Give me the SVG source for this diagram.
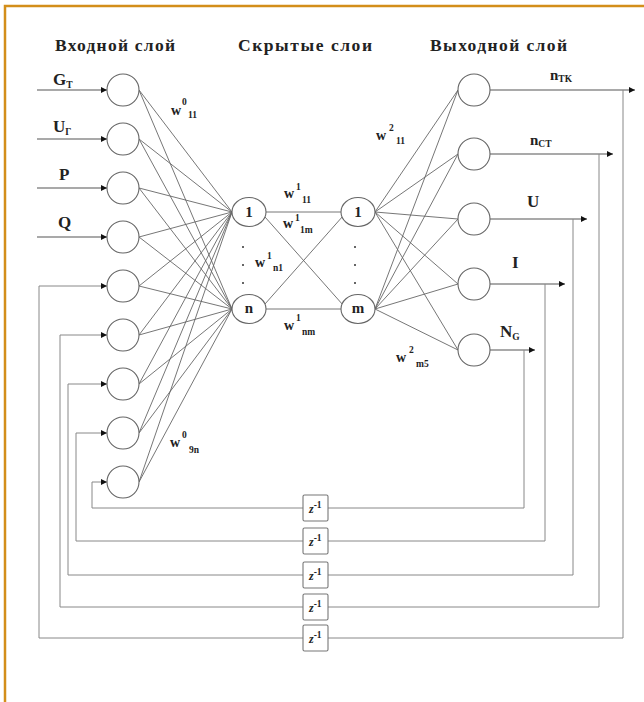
<svg xmlns="http://www.w3.org/2000/svg" width="644" height="702" viewBox="0 0 644 702">
<defs>
<marker id="ah" viewBox="0 0 10 10" refX="10" refY="5" markerWidth="7" markerHeight="6" orient="auto" markerUnits="userSpaceOnUse">
<path d="M0,0 L10,5 L0,10 z" fill="#111"/>
</marker>
<style>
.bg{fill:#fff}
.border{fill:none;stroke:#D38E1A;stroke-width:2.5}
.node{fill:#fff;stroke:#666;stroke-width:1.1}
.w{fill:none;stroke:#666;stroke-width:0.9}
.io{fill:none;stroke:#555;stroke-width:1.2}
.fb{fill:none;stroke:#888;stroke-width:1}
.zbox{fill:#fff;stroke:#777;stroke-width:1.1}
text{font-family:"Liberation Serif","Times New Roman",serif;font-weight:bold;fill:#222}
.hd{font-size:17.5px}
.lab{font-size:17px}
.nl{font-size:15px}
.wt{font-size:14px}
.sm{font-size:9.5px}
.z{font-size:12px;font-style:italic}
.dot{fill:#333}
</style>
</defs>
<rect class="bg" x="0" y="0" width="644" height="702"/>
<path class="border" d="M5,702 L5,6 L644,6"/>

<g id="headers">
<text class="hd" x="55" y="51" textLength="120" lengthAdjust="spacing">Входной слой</text>
<text class="hd" x="238" y="51" textLength="134" lengthAdjust="spacing">Скрытые слои</text>
<text class="hd" x="430" y="51" textLength="137" lengthAdjust="spacing">Выходной слой</text>
</g>

<g id="connectors">
<line class="io" x1="37" y1="90" x2="107" y2="90" marker-end="url(#ah)"/>
<line class="io" x1="37" y1="139" x2="107" y2="139" marker-end="url(#ah)"/>
<line class="io" x1="37" y1="188" x2="107" y2="188" marker-end="url(#ah)"/>
<line class="io" x1="37" y1="237" x2="107" y2="237" marker-end="url(#ah)"/>
<g class="w">
<line x1="139" y1="90" x2="232" y2="212"/><line x1="139" y1="90" x2="232" y2="309"/>
<line x1="139" y1="139" x2="232" y2="212"/><line x1="139" y1="139" x2="232" y2="309"/>
<line x1="139" y1="188" x2="232" y2="212"/><line x1="139" y1="188" x2="232" y2="309"/>
<line x1="139" y1="237" x2="232" y2="212"/><line x1="139" y1="237" x2="232" y2="309"/>
<line x1="139" y1="286" x2="232" y2="212"/><line x1="139" y1="286" x2="232" y2="309"/>
<line x1="139" y1="335" x2="232" y2="212"/><line x1="139" y1="335" x2="232" y2="309"/>
<line x1="139" y1="384" x2="232" y2="212"/><line x1="139" y1="384" x2="232" y2="309"/>
<line x1="139" y1="433" x2="232" y2="212"/><line x1="139" y1="433" x2="232" y2="309"/>
<line x1="139" y1="482" x2="232" y2="212"/><line x1="139" y1="482" x2="232" y2="309"/>
<line x1="266" y1="212" x2="341" y2="212"/>
<line x1="266" y1="309" x2="341" y2="309"/>
<line x1="265" y1="217" x2="343" y2="305"/>
<line x1="265" y1="304" x2="343" y2="216"/>
<line x1="375" y1="212" x2="458" y2="90"/><line x1="375" y1="309" x2="458" y2="90"/>
<line x1="375" y1="212" x2="458" y2="154"/><line x1="375" y1="309" x2="458" y2="154"/>
<line x1="375" y1="212" x2="458" y2="219"/><line x1="375" y1="309" x2="458" y2="219"/>
<line x1="375" y1="212" x2="458" y2="284"/><line x1="375" y1="309" x2="458" y2="284"/>
<line x1="375" y1="212" x2="458" y2="350"/><line x1="375" y1="309" x2="458" y2="350"/>
</g>
<line class="io" x1="490" y1="90" x2="635" y2="90" marker-end="url(#ah)"/>
<line class="io" x1="490" y1="154" x2="613" y2="154" marker-end="url(#ah)"/>
<line class="io" x1="490" y1="219" x2="587" y2="219" marker-end="url(#ah)"/>
<line class="io" x1="490" y1="284" x2="565" y2="284" marker-end="url(#ah)"/>
<line class="io" x1="490" y1="350" x2="535" y2="350" marker-end="url(#ah)"/>
<polyline class="fb" points="623,90 623,638 39,638 39,286 107,286" marker-end="url(#ah)"/>
<polyline class="fb" points="599,154 599,607 60,607 60,335 107,335" marker-end="url(#ah)"/>
<polyline class="fb" points="573,219 573,575 68,575 68,384 107,384" marker-end="url(#ah)"/>
<polyline class="fb" points="545,284 545,541 76,541 76,433 107,433" marker-end="url(#ah)"/>
<polyline class="fb" points="524,350 524,508 92,508 92,482 107,482" marker-end="url(#ah)"/>
</g>

<g id="input-labels">
<text class="lab" x="53" y="85">G<tspan class="sm" dy="3">T</tspan></text>
<text class="lab" x="53" y="132">U<tspan class="sm" dy="3">Г</tspan></text>
<text class="lab" x="59" y="180">P</text>
<text class="lab" x="58" y="228">Q</text>
</g>

<g id="in1"><circle class="node" cx="123" cy="90" r="16"/></g>
<g id="in2"><circle class="node" cx="123" cy="139" r="16"/></g>
<g id="in3"><circle class="node" cx="123" cy="188" r="16"/></g>
<g id="in4"><circle class="node" cx="123" cy="237" r="16"/></g>
<g id="in5"><circle class="node" cx="123" cy="286" r="16"/></g>
<g id="in6"><circle class="node" cx="123" cy="335" r="16"/></g>
<g id="in7"><circle class="node" cx="123" cy="384" r="16"/></g>
<g id="in8"><circle class="node" cx="123" cy="433" r="16"/></g>
<g id="in9"><circle class="node" cx="123" cy="482" r="16"/></g>

<g id="h1-1"><ellipse class="node" cx="249" cy="212" rx="17" ry="14.5"/><text class="nl" x="249" y="217" text-anchor="middle">1</text></g>
<g id="h1-n"><ellipse class="node" cx="249" cy="309" rx="17" ry="14.5"/><text class="nl" x="249" y="313" text-anchor="middle">n</text></g>
<g id="h2-1"><ellipse class="node" cx="358" cy="212" rx="17" ry="14.5"/><text class="nl" x="358" y="217" text-anchor="middle">1</text></g>
<g id="h2-m"><ellipse class="node" cx="358" cy="309" rx="17" ry="14.5"/><text class="nl" x="358" y="313" text-anchor="middle">m</text></g>

<g id="dots">
<circle class="dot" cx="243" cy="247" r="1"/><circle class="dot" cx="243" cy="265" r="1"/><circle class="dot" cx="243" cy="283" r="1"/>
<circle class="dot" cx="355" cy="247" r="1"/><circle class="dot" cx="355" cy="265" r="1"/><circle class="dot" cx="355" cy="283" r="1"/>
</g>

<g id="out1"><circle class="node" cx="474" cy="90" r="16"/></g>
<g id="out2"><circle class="node" cx="474" cy="154" r="16"/></g>
<g id="out3"><circle class="node" cx="474" cy="219" r="16"/></g>
<g id="out4"><circle class="node" cx="474" cy="284" r="16"/></g>
<g id="out5"><circle class="node" cx="474" cy="350" r="16"/></g>

<g id="output-labels">
<text class="nl" x="550" y="80">n<tspan class="sm" dy="2">TK</tspan></text>
<text class="nl" x="530" y="145">n<tspan class="sm" dy="2">CT</tspan></text>
<text class="lab" x="527" y="207">U</text>
<text class="lab" x="512" y="268">I</text>
<text class="lab" x="500" y="337">N<tspan class="sm" dy="3">G</tspan></text>
</g>

<g id="weights">
<text class="wt" x="171" y="115">w</text><text class="sm" x="182" y="105">0</text><text class="sm" x="188" y="118">11</text>
<text class="wt" x="284" y="198">w</text><text class="sm" x="296" y="190">1</text><text class="sm" x="302" y="203">11</text>
<text class="wt" x="283" y="228">w</text><text class="sm" x="295" y="221">1</text><text class="sm" x="300" y="233">1m</text>
<text class="wt" x="255" y="267">w</text><text class="sm" x="267" y="259">1</text><text class="sm" x="273" y="271">n1</text>
<text class="wt" x="284" y="330">w</text><text class="sm" x="296" y="321">1</text><text class="sm" x="302" y="335">nm</text>
<text class="wt" x="376" y="140">w</text><text class="sm" x="389" y="131">2</text><text class="sm" x="396" y="144">11</text>
<text class="wt" x="170" y="447">w</text><text class="sm" x="182" y="438">0</text><text class="sm" x="189" y="453">9n</text>
<text class="wt" x="396" y="362">w</text><text class="sm" x="409" y="353">2</text><text class="sm" x="416" y="367">m5</text>
</g>

<g id="z1"><rect class="zbox" x="303" y="495" width="25" height="26" rx="1.5"/><text class="z" x="309" y="513">z<tspan class="sm" dy="-5" style="font-style:normal">-1</tspan></text></g>
<g id="z2"><rect class="zbox" x="303" y="528" width="25" height="26" rx="1.5"/><text class="z" x="309" y="546">z<tspan class="sm" dy="-5" style="font-style:normal">-1</tspan></text></g>
<g id="z3"><rect class="zbox" x="303" y="562" width="25" height="26" rx="1.5"/><text class="z" x="309" y="580">z<tspan class="sm" dy="-5" style="font-style:normal">-1</tspan></text></g>
<g id="z4"><rect class="zbox" x="303" y="594" width="25" height="26" rx="1.5"/><text class="z" x="309" y="612">z<tspan class="sm" dy="-5" style="font-style:normal">-1</tspan></text></g>
<g id="z5"><rect class="zbox" x="303" y="625" width="25" height="26" rx="1.5"/><text class="z" x="309" y="643">z<tspan class="sm" dy="-5" style="font-style:normal">-1</tspan></text></g>
</svg>
